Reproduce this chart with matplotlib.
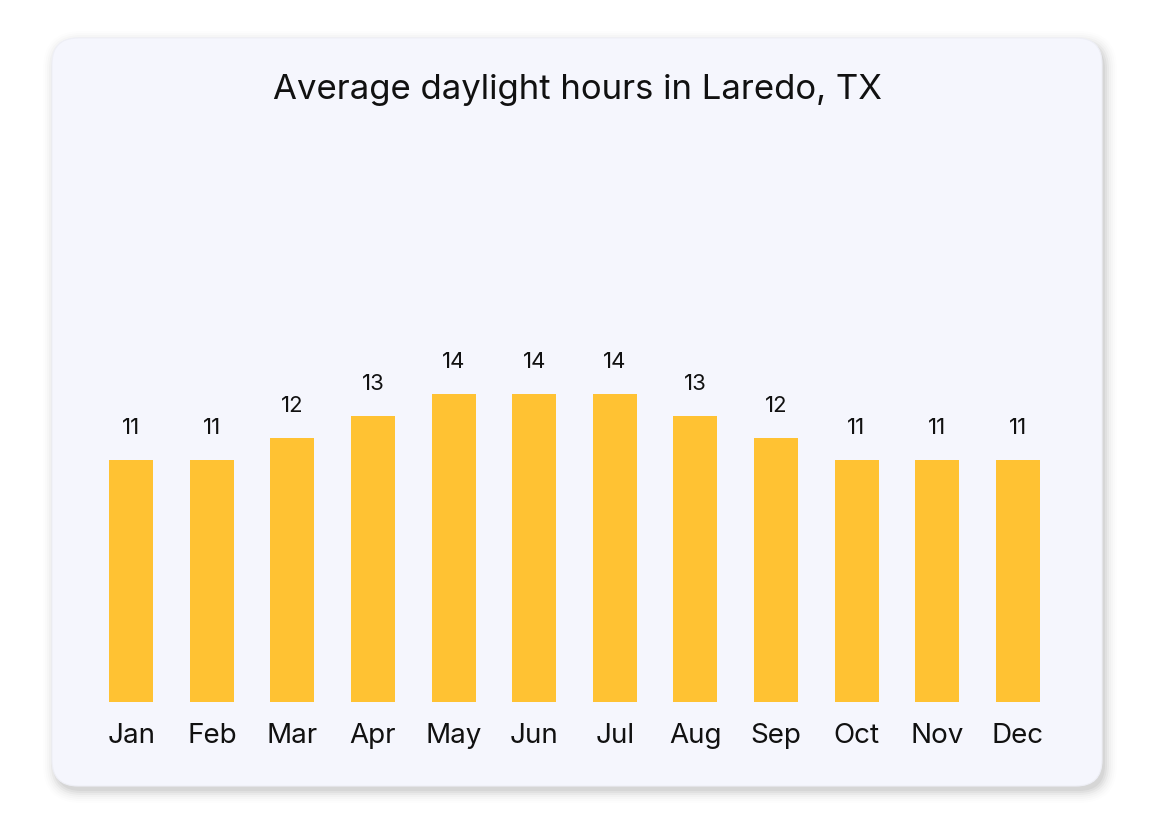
import matplotlib
matplotlib.use("Agg")
import matplotlib.pyplot as plt
from matplotlib.patches import FancyBboxPatch

months = ["Jan", "Feb", "Mar", "Apr", "May", "Jun", "Jul", "Aug", "Sep", "Oct", "Nov", "Dec"]
hours = [11, 11, 12, 13, 14, 14, 14, 13, 12, 11, 11, 11]
title = "Average daylight hours in Laredo, TX"

FONT = "Inter"
W, H = 1155, 825
fig = plt.figure(figsize=(W / 100, H / 100), dpi=100)
fig.patch.set_facecolor("white")

# background / card axes in pixel coordinates
bg = fig.add_axes([0, 0, 1, 1])
bg.set_xlim(0, W)
bg.set_ylim(H, 0)
bg.axis("off")

cx0, cy0, cx1, cy1 = 52, 38, 1102, 786
# shadow
for i, a in enumerate([0.04, 0.035, 0.03, 0.02, 0.015, 0.01, 0.008]):
    g = i * 2.0
    bg.add_patch(FancyBboxPatch((cx0 + 3 - g, cy0 + 5 - g), (cx1 - cx0) + 2 * g, (cy1 - cy0) + 2 * g,
                                boxstyle="round,pad=0,rounding_size=%f" % (26 + g),
                                facecolor="black", edgecolor="none", alpha=a, zorder=1))
bg.add_patch(FancyBboxPatch((cx0, cy0), cx1 - cx0, cy1 - cy0,
                            boxstyle="round,pad=0,rounding_size=26",
                            facecolor="#F5F6FD", edgecolor="#EEEFF6", linewidth=0.8, zorder=2))
bg.text(577, 90, title, ha="center", va="center", fontsize=25, family=FONT, color="#111111", zorder=3)

# chart axes
left_px, right_px = 91, 1058
bottom_px, top_px = 702, 152
ax = fig.add_axes([left_px / W, (H - bottom_px) / H, (right_px - left_px) / W, (bottom_px - top_px) / H])
ax.patch.set_alpha(0)
ax.set_xlim(-0.5, len(months) - 0.5)
ax.set_ylim(0, 25)
x = range(len(months))
ax.bar(x, hours, width=0.546, color="#FFC233", zorder=3)
for xi, v in zip(x, hours):
    ax.annotate(str(v), (xi, v), xytext=(0, 22), textcoords="offset pixels",
                ha="center", va="bottom", fontsize=16, family=FONT, color="#111111")
ax.set_xticks(list(x))
ax.set_xticklabels(months, fontsize=20, family=FONT, color="#111111")
ax.tick_params(axis="x", length=0, pad=15)
ax.set_yticks([])
for s in ax.spines.values():
    s.set_visible(False)

fig.savefig("out.png", dpi=100, facecolor="white")
